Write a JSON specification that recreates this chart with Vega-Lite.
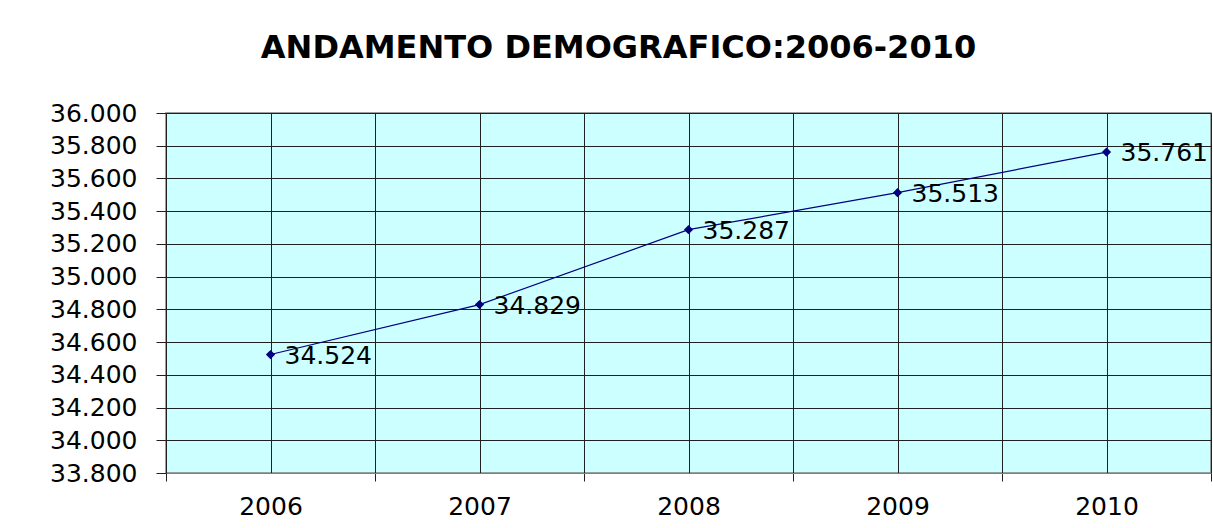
{
  "$schema": "https://vega.github.io/schema/vega-lite/v6.json",
  "width": 1045,
  "height": 360,
  "autosize": {"type": "none"},
  "padding": {"left": 166, "top": 113, "right": 2, "bottom": 55},
  "background": "white",
  "title": {
    "text": "ANDAMENTO DEMOGRAFICO:2006-2010",
    "font": "DejaVu Sans",
    "fontSize": 32,
    "fontWeight": "bold",
    "color": "#000000",
    "anchor": "middle",
    "dx": -70,
    "offset": 36
  },
  "config": {
    "view": {"fill": "#CCFFFF", "stroke": "#808080", "strokeWidth": 1.5},
    "axis": {
      "labelFont": "DejaVu Sans",
      "labelFontSize": 25,
      "labelColor": "#000000",
      "title": null,
      "domainColor": "#808080",
      "gridColor": "#202020",
      "gridOpacity": 1,
      "gridWidth": 1,
      "tickColor": "#202020",
      "tickWidth": 1
    }
  },
  "data": {
    "values": [
      {"anno": 2006, "abitanti": 34524, "etichetta": "34.524"},
      {"anno": 2007, "abitanti": 34829, "etichetta": "34.829"},
      {"anno": 2008, "abitanti": 35287, "etichetta": "35.287"},
      {"anno": 2009, "abitanti": 35513, "etichetta": "35.513"},
      {"anno": 2010, "abitanti": 35761, "etichetta": "35.761"}
    ]
  },
  "encoding": {
    "x": {
      "field": "anno",
      "type": "quantitative",
      "scale": {"domain": [2005.5, 2010.5], "nice": false, "zero": false},
      "axis": {
        "values": [2005.5, 2006, 2006.5, 2007, 2007.5, 2008, 2008.5, 2009, 2009.5, 2010, 2010.5],
        "grid": true,
        "domain": true,
        "tickSize": 8,
        "tickColor": {"condition": {"test": "datum.value % 1 == 0", "value": "transparent"}, "value": "#202020"},
        "labelExpr": "datum.value % 1 == 0 ? '' + datum.value : ''",
        "labelPadding": 13,
        "labelFlush": false,
        "labelOverlap": false
      }
    },
    "y": {
      "field": "abitanti",
      "type": "quantitative",
      "scale": {"domain": [33800, 36000], "nice": false, "zero": false},
      "axis": {
        "values": [33800, 34000, 34200, 34400, 34600, 34800, 35000, 35200, 35400, 35600, 35800, 36000],
        "grid": true,
        "domain": false,
        "tickSize": 10,
        "labelPadding": 19,
        "labelExpr": "replace(format(datum.value, ',d'), ',', '.')",
        "labelOverlap": false
      }
    }
  },
  "layer": [
    {"mark": {"type": "line", "color": "#000080", "strokeWidth": 1.2}},
    {"mark": {"type": "point", "shape": "diamond", "filled": true, "color": "#000080", "size": 85, "opacity": 1}},
    {
      "mark": {"type": "text", "align": "left", "baseline": "middle", "dx": 14, "dy": 1, "font": "DejaVu Sans", "fontSize": 25, "color": "#000000", "clip": false},
      "encoding": {"text": {"field": "etichetta", "type": "nominal"}}
    }
  ]
}
